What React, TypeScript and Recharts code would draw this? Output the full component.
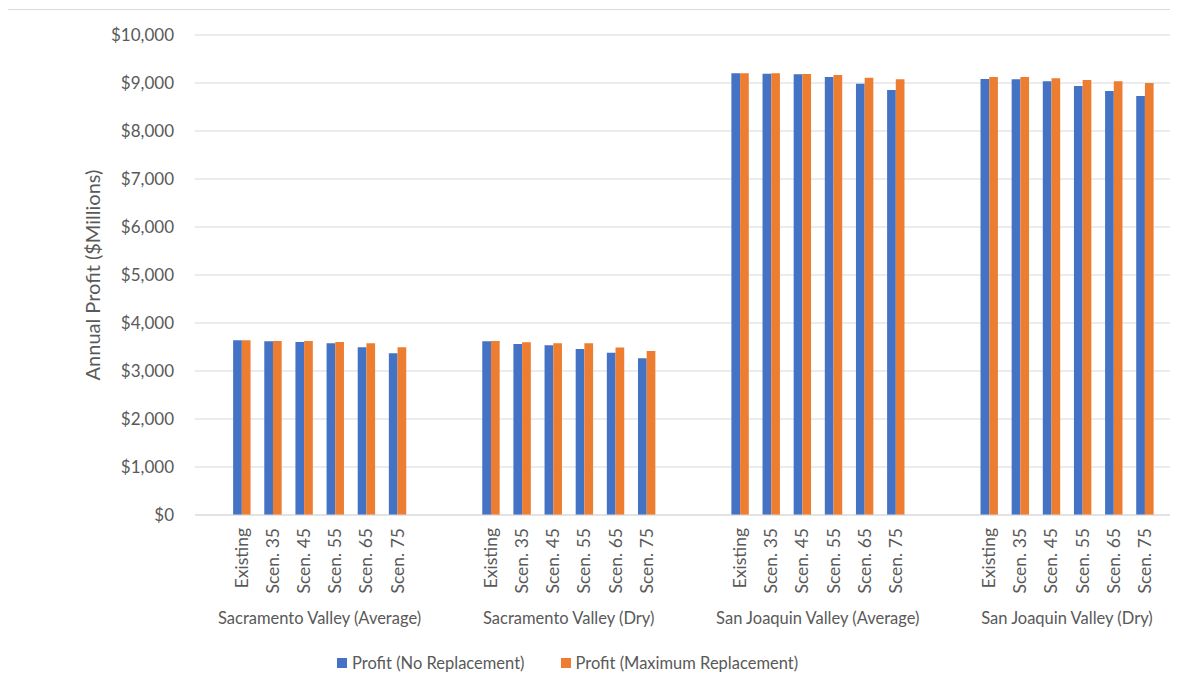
import React from 'react';
import { BarChart, Bar, XAxis, YAxis, CartesianGrid } from 'recharts';

const groups = [
  'Sacramento Valley (Average)',
  'Sacramento Valley (Dry)',
  'San Joaquin Valley (Average)',
  'San Joaquin Valley (Dry)',
];
const scenarios = ['Existing', 'Scen. 35', 'Scen. 45', 'Scen. 55', 'Scen. 65', 'Scen. 75'];
const noReplacement = [
  [3640, 3619, 3604, 3577, 3494, 3369],
  [3619, 3562, 3535, 3458, 3382, 3264],
  [9202, 9194, 9181, 9125, 8986, 8854],
  [9083, 9076, 9035, 8937, 8833, 8729],
];
const maxReplacement = [
  [3640, 3625, 3625, 3604, 3577, 3494],
  [3625, 3598, 3577, 3577, 3487, 3417],
  [9202, 9202, 9188, 9167, 9111, 9077],
  [9125, 9125, 9097, 9062, 9035, 9000],
];
const yTicks = [0, 1000, 2000, 3000, 4000, 5000, 6000, 7000, 8000, 9000, 10000];
const seriesNames = ['Profit (No Replacement)', 'Profit (Maximum Replacement)'];
const colors = ['#4472C4', '#ED7D31'];

type Row = { name: string; group?: string; noRep: number | null; maxRep: number | null };

const rows: Row[] = [];
rows.push({ name: '', noRep: null, maxRep: null });
groups.forEach((g, gi) => {
  scenarios.forEach((s, si) => {
    rows.push({
      name: s,
      group: si === 0 ? g : undefined,
      noRep: noReplacement[gi][si],
      maxRep: maxReplacement[gi][si],
    });
  });
  if (gi < groups.length - 1) {
    rows.push({ name: '', noRep: null, maxRep: null });
    rows.push({ name: '', noRep: null, maxRep: null });
  }
});
rows.push({ name: '', noRep: null, maxRep: null });

const FONT = 'Lato, "Noto Sans", sans-serif';
const TEXT = '#595959';

const fmt = (v: number) => '$' + v.toLocaleString('en-US');

const CatTick = (props: any) => {
  const { x, y, payload, index } = props;
  const row = rows[index];
  const half = payload && payload.offset ? payload.offset : 0;
  return (
    <g>
      {row && row.name ? (
        <text
          transform={`translate(${x},${y + 13}) rotate(-90)`}
          textAnchor="end"
          dy="0.35em"
          fill={TEXT}
          fontSize={17.5}
          fontFamily={FONT}
        >
          {row.name}
        </text>
      ) : null}
      {row && row.group ? (
        <text
          x={x + half * 5}
          y={y + 103}
          textAnchor="middle"
          dy="0.35em"
          fill={TEXT}
          fontSize={16.5}
          fontFamily={FONT}
        >
          {row.group}
        </text>
      ) : null}
    </g>
  );
};

export default function App() {
  return (
    <div style={{ position: 'relative', width: 1170, height: 679, overflow: 'hidden', fontFamily: FONT }}>
      <div
        style={{
          position: 'absolute',
          left: -1,
          top: 1,
          width: 1300,
          height: 800,
          border: '1px solid #d9d9d9',
          boxSizing: 'border-box',
        }}
      />
      <div style={{ position: 'absolute', left: 0, top: 0 }}>
        <BarChart
          width={1190}
          height={679}
          data={rows}
          margin={{ top: 27, right: 6.5, left: 0, bottom: 0 }}
          barGap={0}
          barSize={8.7}
        >
          <CartesianGrid vertical={false} stroke="#d9d9d9" strokeWidth={1} />
          <XAxis
            dataKey="name"
            interval={0}
            height={172}
            tickLine={false}
            tickSize={0}
            tickMargin={0}
            axisLine={{ stroke: '#d9d9d9', strokeWidth: 1 }}
            tick={<CatTick />}
          />
          <YAxis
            width={187}
            domain={[0, 10000]}
            ticks={yTicks}
            tickFormatter={fmt}
            axisLine={false}
            tickLine={false}
            tickSize={0}
            tickMargin={21}
            tick={{ fill: TEXT, fontSize: 17, fontFamily: FONT }}
          />
          <Bar dataKey="noRep" name={seriesNames[0]} fill={colors[0]} isAnimationActive={false} />
          <Bar dataKey="maxRep" name={seriesNames[1]} fill={colors[1]} isAnimationActive={false} />
        </BarChart>
      </div>
      <div
        style={{
          position: 'absolute',
          left: 84,
          top: 267,
          transform: 'translate(-50%, -50%) rotate(-90deg)',
          whiteSpace: 'nowrap',
          fontSize: 20,
          color: TEXT,
        }}
      >
        Annual Profit ($Millions)
      </div>
      <div
        style={{
          position: 'absolute',
          left: 329,
          top: 645,
          display: 'flex',
          alignItems: 'center',
          fontSize: 16.5,
          color: TEXT,
          whiteSpace: 'nowrap',
          lineHeight: '20px',
        }}
      >
        {seriesNames.map((n, i) => (
          <div key={n} style={{ display: 'flex', alignItems: 'center', marginRight: i === 0 ? 36 : 0 }}>
            <span style={{ width: 10, height: 10, background: colors[i], display: 'inline-block', marginRight: 5 }} />
            <span>{n}</span>
          </div>
        ))}
      </div>
    </div>
  );
}
